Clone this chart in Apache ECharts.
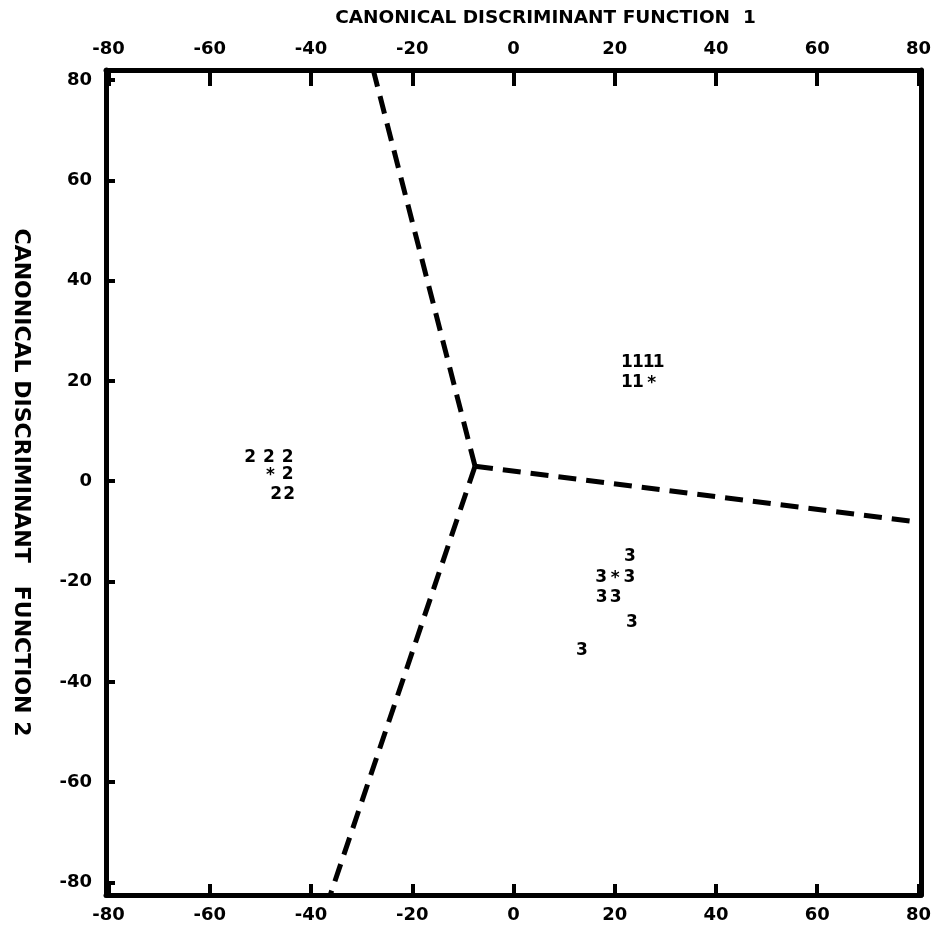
<!DOCTYPE html>
<html><head><meta charset="utf-8">
<script src="https://cdn.jsdelivr.net/npm/echarts@6/dist/echarts.min.js"></script>
<style>html,body{margin:0;padding:0;background:#fff}#c{width:934px;height:930px}</style>
</head><body><div id="c"></div>
<script>
// Tick labels
const xTicks = [-80, -60, -40, -20, 0, 20, 40, 60, 80];
const yTicks = [-80, -60, -40, -20, 0, 20, 40, 60, 80];
// Group 1 characters [x, y, char]
const group1 = [[22.4, 23.7, '1'], [24.6, 23.7, '1'], [26.7, 23.7, '1'], [28.7, 23.7, '1'],
                [22.4, 19.6, '1'], [24.6, 19.6, '1'], [27.3, 19.4, '*']];
// Group 2 characters
const group2 = [[-52.0, 4.8, '2'], [-48.3, 4.8, '2'], [-44.6, 4.8, '2'],
                [-48.0, 1.2, '*'], [-44.6, 1.4, '2'],
                [-46.9, -2.6, '2'], [-44.3, -2.6, '2']];
// Group 3 characters
const group3 = [[23.0, -15.0, '3'],
                [17.3, -19.2, '3'], [20.1, -19.4, '*'], [22.9, -19.2, '3'],
                [17.4, -23.1, '3'], [20.2, -23.1, '3'],
                [23.4, -28.1, '3'],
                [13.5, -33.7, '3']];
// Territorial boundaries: junction and three ends
const junction = [-7.6, 3.0];
const boundaryEnds = [[-27.7, 82], [80.5, -8.2], [-36.2, -82.5]];

const FONT = '"DejaVu Sans", "Liberation Sans", Arial, sans-serif';
const chart = echarts.init(document.getElementById('c'));
const lblFont = {fontFamily: FONT, fontWeight: 'bold', fontSize: 18, color: '#000'};
const charSeries = (data) => ({
  type: 'scatter', data: data.map(d => ({value: [d[0], d[1]], name: d[2]})),
  symbolSize: 2, itemStyle: {color: 'rgba(0,0,0,0)', opacity: 1}, silent: true,
  label: {show: true, position: 'inside', formatter: p => p.name, color: '#000', opacity: 1,
    textBorderWidth: 0, fontFamily: FONT, fontWeight: 'bold', fontSize: 17,
    align: 'center', verticalAlign: 'middle'}
});
const lineSeries = boundaryEnds.map(e => ({
  type: 'line', data: [junction, e], symbol: 'none', silent: true, clip: false,
  lineStyle: {color: '#000', width: 5, type: [18, 10], cap: 'butt'}
}));
chart.setOption({
  animation: false,
  grid: {left: 106, right: 13, top: 70, bottom: 35, containLabel: false, outerBoundsMode: 'none'},
  xAxis: [
    {type: 'value', position: 'bottom', min: -80.5, max: 80.5,
     axisLine: {show: true, onZero: false, lineStyle: {color: '#000', width: 5}},
     axisTick: {show: true, inside: true, length: 11, lineStyle: {width: 4, color: '#000'}, customValues: xTicks},
     axisLabel: Object.assign({customValues: xTicks, margin: 11}, lblFont),
     splitLine: {show: false}},
    {type: 'value', position: 'top', min: -80.5, max: 80.5,
     name: 'CANONICAL DISCRIMINANT FUNCTION  1', nameLocation: 'middle', nameGap: 42,
     nameTextStyle: {fontFamily: FONT, fontWeight: 'bold', fontSize: 18.5, color: '#000', padding: [0, 0, 0, 64]},
     axisLine: {show: true, onZero: false, lineStyle: {color: '#000', width: 5}},
     axisTick: {show: true, inside: true, length: 16, lineStyle: {width: 4, color: '#000'}, customValues: xTicks},
     axisLabel: Object.assign({customValues: xTicks, margin: 12}, lblFont),
     splitLine: {show: false}}
  ],
  yAxis: [
    {type: 'value', position: 'left', min: -82.5, max: 82,
     name: 'CANONICAL DISCRIMINANT   FUNCTION 2', nameLocation: 'middle', nameGap: 74, nameRotate: -90,
     nameTextStyle: {fontFamily: FONT, fontWeight: 'bold', fontSize: 22, color: '#000'},
     axisLine: {show: true, onZero: false, lineStyle: {color: '#000', width: 5}},
     axisTick: {show: true, inside: true, length: 9, lineStyle: {width: 4, color: '#000'}, customValues: yTicks},
     axisLabel: Object.assign({customValues: yTicks, margin: 14}, lblFont),
     splitLine: {show: false}},
    {type: 'value', position: 'right', min: -82.5, max: 82,
     axisLine: {show: true, onZero: false, lineStyle: {color: '#000', width: 5}},
     axisTick: {show: false}, axisLabel: {show: false}, splitLine: {show: false}}
  ],
  series: [charSeries(group1), charSeries(group2), charSeries(group3)].concat(lineSeries)
});
</script></body></html>
